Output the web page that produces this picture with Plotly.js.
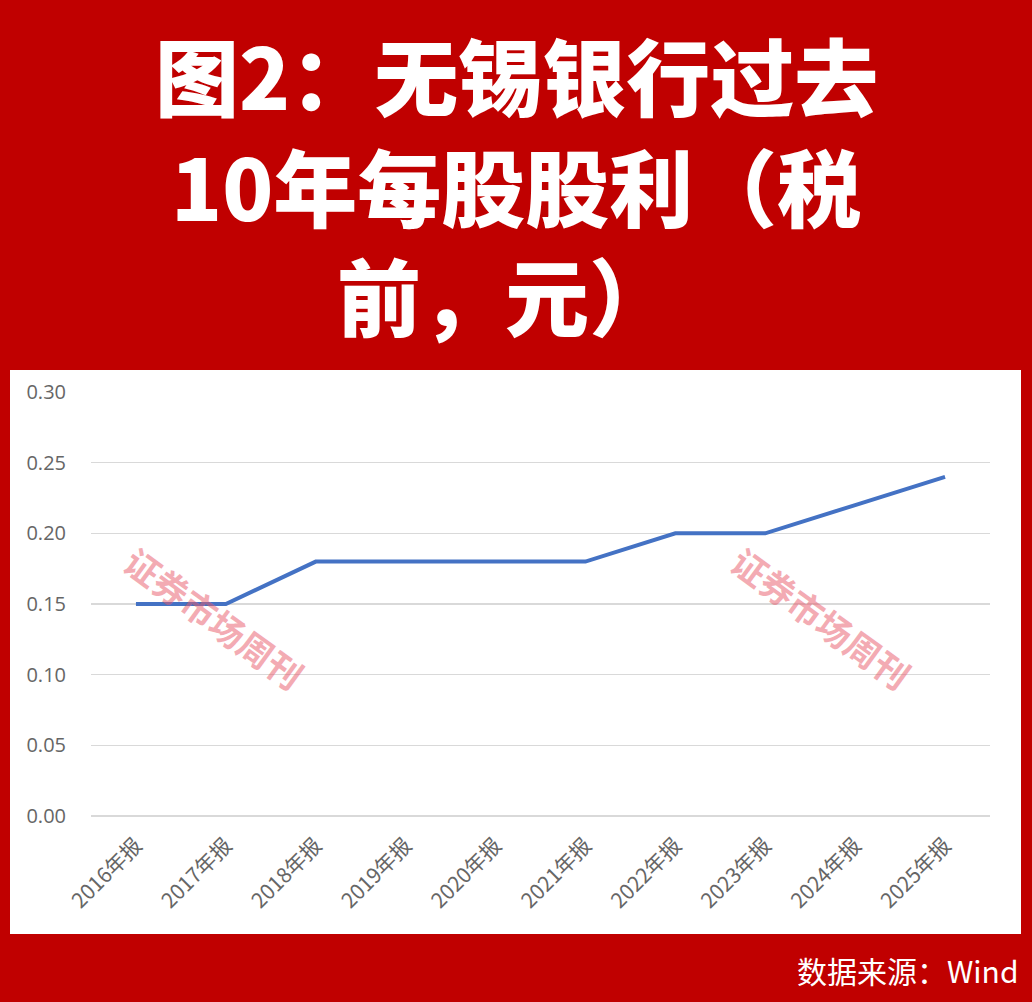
<!DOCTYPE html>
<html>
<head>
<meta charset="utf-8">
<script src="https://cdn.plot.ly/plotly-3.0.1.min.js"></script>
<style>
html,body{margin:0;padding:0;background:#C00000;}
#chart{width:1032px;height:1002px;}
</style>
</head>
<body>
<div id="chart"></div>
<script>
// ---- data ----
const categories = ["2016年报","2017年报","2018年报","2019年报","2020年报","2021年报","2022年报","2023年报","2024年报","2025年报"];
const dividendPerShare = [0.15, 0.15, 0.18, 0.18, 0.18, 0.18, 0.20, 0.20, 0.22, 0.24];
const yTickValues = [0, 0.05, 0.10, 0.15, 0.20, 0.25, 0.30];
const titleLines = ["图2：无锡银行过去", "10年每股股利（税", "前，元）"];
const watermarkText = "证券市场周刊";
const sourceText = "数据来源：Wind";

// ---- layout geometry ----
const W = 1032, H = 1002;
const M = {l: 91, r: 42, t: 392, b: 186};
const PW = W - M.l - M.r, PH = H - M.t - M.b;
const px = x => (x - M.l) / PW;
const py = y => (H - M.b - y) / PH;

const CJK = '"Noto Sans CJK SC", "Noto Sans", sans-serif';

const annotations = [];
const titleY = [73, 184, 293];
const titleX = [516, 516, 505];
titleLines.forEach((t, i) => {
  annotations.push({
    text: t, xref: 'paper', yref: 'paper', x: px(titleX[i]), y: py(titleY[i]),
    xanchor: 'center', yanchor: 'middle', showarrow: false,
    font: {family: CJK, size: 84, color: '#FFFFFF', weight: 900}
  });
});
[[215, 617], [822, 617]].forEach(p => {
  annotations.push({
    text: watermarkText, xref: 'paper', yref: 'paper', x: px(p[0]), y: py(p[1]),
    xanchor: 'center', yanchor: 'middle', showarrow: false, textangle: 36,
    font: {family: CJK, size: 35, color: 'rgba(232,88,104,0.5)', weight: 700}
  });
});
annotations.push({
  text: sourceText, xref: 'paper', yref: 'paper', x: px(1021), y: py(970),
  xanchor: 'right', yanchor: 'middle', showarrow: false,
  font: {family: CJK, size: 30, color: '#FFFFFF'}
});

const trace = {
  type: 'scatter', mode: 'lines',
  x: categories, y: dividendPerShare,
  line: {color: '#4472C4', width: 4},
  hoverinfo: 'x+y'
};

const layout = {
  width: W, height: H,
  margin: M,
  paper_bgcolor: '#C00000',
  plot_bgcolor: '#FFFFFF',
  showlegend: false,
  font: {family: CJK},
  shapes: [{
    type: 'rect', xref: 'paper', yref: 'paper', layer: 'below',
    x0: px(10), x1: px(1021), y0: py(934), y1: py(370),
    fillcolor: '#FFFFFF', line: {width: 0}
  }],
  xaxis: {
    type: 'category', range: [-0.5, categories.length - 0.5],
    showgrid: false, showline: false, zeroline: false, ticks: '',
    tickangle: -45, ticklabelstandoff: 12,
    tickfont: {family: CJK, size: 21, color: '#666666'}
  },
  yaxis: {
    range: [0, 0.30], tickvals: yTickValues, tickformat: '.2f',
    showgrid: true, gridcolor: '#D9D9D9', gridwidth: 1.5,
    zeroline: true, zerolinecolor: '#D9D9D9', zerolinewidth: 1.5,
    showline: false, ticks: '', ticklabelstandoff: 24,
    tickfont: {family: '"Open Sans", "Noto Sans", sans-serif', size: 20, color: '#666666'}
  },
  annotations: annotations
};

Plotly.newPlot('chart', [trace], layout, {displayModeBar: false, staticPlot: true});
</script>
</body>
</html>
